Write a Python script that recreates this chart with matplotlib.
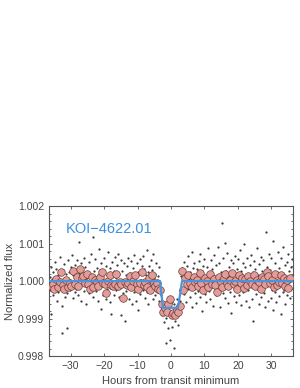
"""Folded light curve of KOI-4622.01 with binned points and transit model."""
import numpy as np
import matplotlib
matplotlib.use('Agg')
import matplotlib.pyplot as plt
from matplotlib.ticker import MultipleLocator, FormatStrFormatter

# unbinned points: hours from transit minimum, flux offset in ppm
dot_hours = [
    -36.3, -36.1, -35.9, -35.8, -35.5, -35.3, -35.2, -34.9, -34.7, -34.6, -34.4, -34.1, -33.9, -33.8, -33.6, -33.3, -33.2, -33.0, -32.7, -32.6,
    -32.4, -32.2, -31.9, -31.8, -31.6, -31.4, -31.1, -31.0, -30.8, -30.5, -30.4, -30.2, -30.0, -29.8, -29.5, -29.4, -29.2, -28.9, -28.8, -28.6,
    -28.3, -28.2, -28.0, -27.8, -27.5, -27.4, -27.2, -27.0, -26.8, -26.5, -26.4, -26.1, -26.0, -25.8, -25.6, -25.3, -25.2, -25.0, -24.7, -24.6,
    -24.4, -24.1, -24.0, -23.8, -23.5, -23.4, -23.2, -23.0, -22.7, -22.6, -22.4, -22.2, -21.9, -21.8, -21.5, -21.4, -21.2, -20.9, -20.8, -20.6,
    -20.3, -20.2, -20.0, -19.8, -19.5, -19.4, -19.1, -19.0, -18.8, -18.6, -18.3, -18.2, -17.9, -17.8, -17.6, -17.4, -17.1, -17.0, -16.8, -16.5,
    -16.4, -16.2, -16.0, -15.7, -15.6, -15.4, -15.1, -15.0, -14.8, -14.6, -14.3, -14.2, -14.0, -13.7, -13.6, -13.4, -13.1, -13.0, -12.8, -12.5,
    -12.4, -12.2, -12.0, -11.7, -11.6, -11.3, -11.2, -11.0, -10.8, -10.5, -10.4, -10.2, -9.9, -9.8, -9.6, -9.3, -9.2, -9.0, -8.8, -8.5,
    -8.4, -8.1, -8.0, -7.8, -7.6, -7.3, -7.2, -6.9, -6.8, -6.6, -6.4, -6.1, -6.0, -5.8, -5.5, -5.4, -5.2, -4.9, -4.8, -4.6,
    -4.4, -4.1, -4.0, -3.7, -3.6, -3.4, -3.2, -2.9, -2.8, -2.6, -2.3, -2.2, -2.0, -1.8, -1.5, -1.4, -1.1, -1.0, -0.8, -0.5,
    -0.4, -0.2, 0.0, 0.3, 0.4, 0.6, 0.9, 1.0, 1.2, 1.5, 1.6, 1.8, 2.1, 2.2, 2.4, 2.7, 2.8, 3.0, 3.3, 3.4,
    3.6, 3.9, 4.0, 4.2, 4.5, 4.6, 4.8, 5.1, 5.2, 5.4, 5.7, 5.8, 6.0, 6.3, 6.4, 6.6, 6.9, 7.0, 7.2, 7.5,
    7.6, 7.8, 8.1, 8.2, 8.4, 8.7, 8.8, 9.0, 9.3, 9.4, 9.6, 9.9, 10.0, 10.2, 10.5, 10.6, 10.8, 11.1, 11.2, 11.4,
    11.7, 11.8, 12.0, 12.3, 12.4, 12.6, 12.9, 13.0, 13.2, 13.5, 13.6, 13.8, 14.1, 14.2, 14.4, 14.7, 14.8, 15.0, 15.3, 15.4,
    15.6, 15.9, 16.0, 16.2, 16.5, 16.6, 16.8, 17.1, 17.2, 17.4, 17.7, 17.8, 18.0, 18.3, 18.4, 18.6, 18.9, 19.0, 19.2, 19.5,
    19.6, 19.8, 20.1, 20.2, 20.4, 20.7, 20.8, 21.0, 21.3, 21.4, 21.6, 21.9, 22.0, 22.2, 22.5, 22.6, 22.8, 23.1, 23.2, 23.4,
    23.7, 23.8, 24.0, 24.3, 24.4, 24.6, 24.9, 25.0, 25.2, 25.5, 25.6, 25.8, 26.1, 26.2, 26.4, 26.7, 26.8, 27.0, 27.3, 27.4,
    27.6, 27.9, 28.0, 28.2, 28.5, 28.6, 28.8, 29.1, 29.2, 29.4, 29.7, 29.8, 30.0, 30.3, 30.4, 30.6, 30.9, 31.0, 31.2, 31.5,
    31.6, 31.8, 32.1, 32.2, 32.4, 32.7, 32.8, 33.0, 33.3, 33.4, 33.6, 33.9, 34.0, 34.2, 34.5, 34.6, 34.8, 35.1, 35.2, 35.4,
    35.7, 35.8, 36.0, 36.3,
]
dot_ppm = [
    120, -250, 380, -880, 60, -380, 250, -120, 520, -60, 310, -520, 150, -300, -90, 640, -200, 40, -650, -1370,
    290, -150, 450, -420, 80, 180, -330, -1260, 560, -30, 240, -240, 370, -100, 690, -460, 150, 330, -280, 420,
    -210, 560, 80, -380, 1030, 210, -90, 470, -520, 300, 140, -260, 620, -40, 380, -610, 90, 250, -180, 510,
    -330, 180, 720, -150, 40, 1180, -420, 260, -60, 590, -270, 360, -520, 110, 850, -190, 300, -740, 470, 20,
    230, -360, 610, -90, 410, -480, 150, -220, 780, -30, 340, -560, 190, -870, 500, -140, 270, -380, 650, 80,
    -250, 420, -60, 720, -430, 190, -150, 560, -900, 280, 30, -330, 480, -1050, 150, -260, 390, -70, 610, -480,
    220, -190, 540, -620, 90, 350, -280, 700, -40, -520, 160, 470, -760, 250, -110, 590, -350, 30, 400, -230,
    660, -80, 320, -450, 150, 830, -300, 240, -620, 410, -130, 560, -40, 290, -480, 720, 90, -360, 180, -210,
    470, -270, 130, -520, 380, -150, -640, -380, -900, -720, -560, -1100, -820, -640, -1660, -980, -760, -1250, -540, -880,
    -700, -1570, -950, -560, -1230, -820, -1790, -620, -1050, -760, -900, -480, -1180, -680, -850, -230, -520, 130, -190, 360,
    280, -340, 520, -90, 190, -560, 410, -210, 660, 30, -420, 240, -130, 780, -680, 350, -50, 470, -310, 150,
    -590, 310, 90, -260, 540, -420, 720, -70, 260, -800, 410, -150, 600, -340, 120, -560, 380, -20, 870, -270,
    200, -480, 550, -110, 330, -650, 140, 690, -240, 420, -380, 60, 910, -190, 480, -700, 250, -30, 1560, -320,
    620, -150, 1020, -460, 280, -70, 750, -580, 380, 130, -290, 570, -840, 210, -120, 480, -400, 680, 20, -560,
    330, -200, 590, -380, 110, 820, -640, 260, -90, 470, -300, 1000, -160, 380, -520, 190, 610, -250, 40, -700,
    420, -130, 700, -480, 240, -1050, 530, -60, 310, -350, 880, -210, 170, -600, 460, -20, 640, -420, 260, -150,
    560, -330, 190, -690, 1300, -100, 380, -520, 720, -40, 290, -450, 610, -230, 1060, -760, 140, -300, 470, -560,
    230, -170, 780, -410, 350, -20, 620, -880, 150, -300, 900, -240, 430, -620, 80, 520, -360, 710, -130, 260,
    -450, 380, -210, 590,
]

# binned points
bin_hours = [
    -35.8, -35.2, -34.9, -34.3, -33.7, -33.3, -32.8, -32.2, -31.9, -31.3, -30.7, -30.3, -29.8, -29.4, -28.8, -28.2, -27.9, -27.3, -26.7, -26.3,
    -25.8, -25.2, -24.9, -24.3, -23.7, -23.3, -22.8, -22.2, -21.9, -21.3, -20.7, -20.3, -19.8, -19.4, -18.8, -18.2, -17.9, -17.3, -16.7, -16.3,
    -15.8, -15.2, -14.9, -14.3, -13.7, -13.3, -12.8, -12.2, -11.9, -11.3, -10.7, -10.3, -9.8, -9.4, -8.8, -8.2, -7.9, -7.3, -6.7, -6.3,
    -5.8, -5.2, -4.9, -4.3, -3.8, -3.3, -2.8, -2.3, -1.8, -1.3, -0.8, -0.3, 0.2, 0.7, 1.2, 1.7, 2.2, 2.7, 3.2, 3.7,
    4.2, 4.8, 5.1, 5.7, 6.2, 6.8, 7.1, 7.7, 8.2, 8.8, 9.1, 9.7, 10.2, 10.8, 11.1, 11.7, 12.2, 12.8, 13.1, 13.7,
    14.2, 14.8, 15.1, 15.7, 16.2, 16.8, 17.1, 17.7, 18.2, 18.8, 19.1, 19.7, 20.2, 20.8, 21.1, 21.7, 22.2, 22.8, 23.1, 23.7,
    24.2, 24.8, 25.1, 25.7, 26.2, 26.8, 27.1, 27.7, 28.2, 28.8, 29.1, 29.7, 30.2, 30.8, 31.1, 31.7, 32.2, 32.8, 33.1, 33.7,
    34.2, 34.8, 35.1, 35.7,
]
bin_ppm = [
    -120, -90, -200, 60, -150, -30, 230, -100, -210, 40, -150, -60, -120, 280, -80, 120, -140, 310, 80, 140,
    -50, 200, -90, -220, 120, -150, 20, -30, -120, 110, 240, -60, -80, -310, -10, 170, -100, -140, -70, 200,
    -130, -20, -90, -460, -20, -110, -40, 130, -150, -10, 150, -90, -210, -60, 230, -110, -20, -160, 80, -250,
    160, -40, -130, -60, -200, -250, -600, -820, -710, -820, -600, -470, -890, -860, -910, -780, -820, -650, 270, -230,
    80, -90, 150, -40, -170, 120, -20, 40, -130, 210, -60, -230, 90, -10, -150, 180, -80, 60, -110, -280,
    120, -30, -160, 80, 180, -60, -120, 30, 210, -90, -10, -200, 150, -40, 90, -180, 60, -100, 140, 10,
    -70, 170, -140, 20, -30, -210, 110, 60, -80, 250, 140, -50, 30, -170, 200, -100, -20, 160, -60, 90,
    -130, 40, -180, 80,
]

# transit model
model_hours = [-36.5, -3.3, -2.4, 2.1, 3.3, 36.5]
model_ppm = [0, 0, -710, -710, 0, 0]

plt.rcParams['font.family'] = ['Liberation Sans', 'DejaVu Sans']

fig = plt.figure(figsize=(3.0, 3.88), dpi=100)
ax = fig.add_axes([0.163, 0.082, 0.814, 0.387])

ax.scatter(dot_hours, 1 + np.array(dot_ppm) * 1e-6, s=2.6, color='#3a3a3a', lw=0, zorder=2)
ax.scatter(bin_hours, 1 + np.array(bin_ppm) * 1e-6, s=30, facecolor='#e49c96',
           edgecolor='#6a3c3c', lw=0.5, zorder=3)
ax.plot(model_hours, 1 + np.array(model_ppm) * 1e-6, color='#4a94de', lw=1.6, zorder=4)

ax.text(0.07, 0.82, 'KOI\u22124622.01', transform=ax.transAxes, color='#3c8fdc', fontsize=10.5)

ax.set_xlim(-36.5, 36.5)
ax.set_ylim(0.998, 1.002)
ax.xaxis.set_major_locator(MultipleLocator(10))
ax.yaxis.set_major_locator(MultipleLocator(0.001))
ax.yaxis.set_minor_locator(MultipleLocator(0.0002))
ax.yaxis.set_major_formatter(FormatStrFormatter('%.3f'))
ax.tick_params(which='both', direction='in', top=True, right=True, labelsize=7.5,
               colors='#555555', labelcolor='#444444', width=0.6)
ax.tick_params(which='major', length=2.5)
ax.tick_params(which='minor', length=1.5)
for sp in ax.spines.values():
    sp.set_color('#555555')
    sp.set_linewidth(0.8)

ax.set_xlabel('Hours from transit minimum', fontsize=8, color='#444444', labelpad=3.5)
ax.set_ylabel('Normalized flux', fontsize=8, color='#444444', labelpad=2)

plt.savefig('out.png', dpi=100)
